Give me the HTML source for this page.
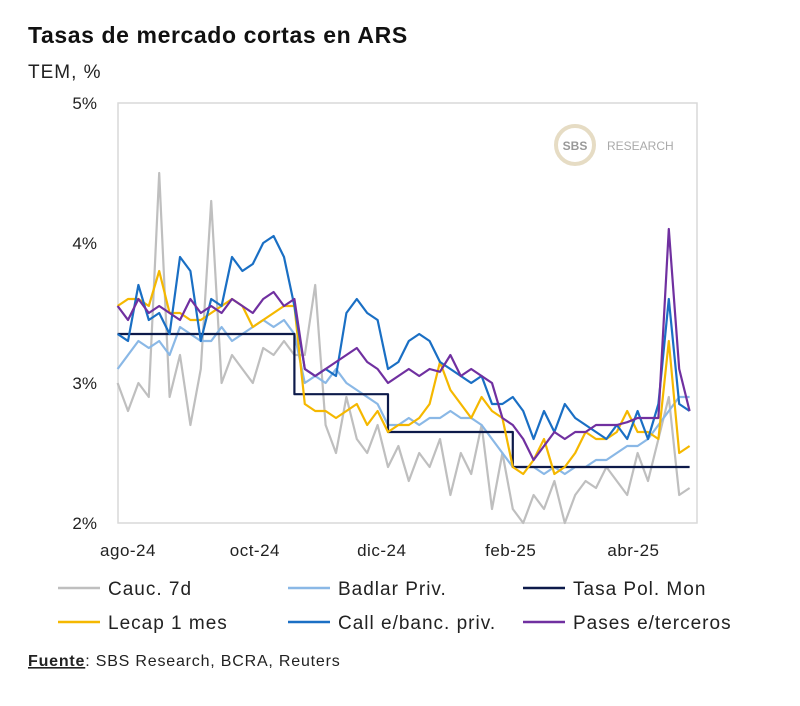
<!DOCTYPE html>
<html><head><meta charset="utf-8"><style>
body{margin:0;background:#fff;width:800px;height:701px;overflow:hidden;font-family:"Liberation Sans",sans-serif;}
</style></head><body>
<svg width="800" height="701" xmlns="http://www.w3.org/2000/svg">
<text x="28" y="43" font-size="23" font-weight="bold" fill="#111" letter-spacing="0.6">Tasas de mercado cortas en ARS</text>
<text x="28" y="78" font-size="19" fill="#222" letter-spacing="1">TEM, %</text>
<rect x="118" y="103" width="579" height="420" fill="none" stroke="#d9d9d9" stroke-width="1.5"/>
<g>
<circle cx="575" cy="145" r="19" fill="#fff" stroke="#e6dcc4" stroke-width="4"/>
<text x="575" y="150" font-size="12" font-weight="bold" fill="#999" text-anchor="middle">SBS</text>
<text x="607" y="150" font-size="12" fill="#aaa">RESEARCH</text>
</g>
<g id="yaxis"></g><g id="xaxis"></g><g id="series"></g>
<g id="legend"></g>
<text x="28" y="666" font-size="16" fill="#222" letter-spacing="0.8"><tspan font-weight="bold" text-decoration="underline">Fuente</tspan>: SBS Research, BCRA, Reuters</text>
</svg>
<script>
const yTicks=[2,3,4,5];
const yTickLabels=["2%","3%","4%","5%"];
const xTickDays=[0,61,122,184,243];
const xTickLabels=["ago-24","oct-24","dic-24","feb-25","abr-25"];
const startDay=-5, stepDays=5;
const seriesNames=["Cauc. 7d","Badlar Priv.","Tasa Pol. Mon","Lecap 1 mes","Call e/banc. priv.","Pases e/terceros"];
const cauc=[3.0,2.8,3.0,2.9,4.5,2.9,3.2,2.7,3.1,4.3,3.0,3.2,3.1,3.0,3.25,3.2,3.3,3.2,3.2,3.7,2.7,2.5,2.9,2.6,2.5,2.7,2.4,2.55,2.3,2.5,2.4,2.6,2.2,2.5,2.35,2.7,2.1,2.5,2.1,2.0,2.2,2.1,2.3,2.0,2.2,2.3,2.25,2.4,2.3,2.2,2.5,2.3,2.6,2.9,2.2,2.25];
const badlar=[3.1,3.2,3.3,3.25,3.3,3.2,3.4,3.35,3.3,3.3,3.4,3.3,3.35,3.4,3.45,3.4,3.45,3.35,3.0,3.05,3.0,3.1,3.0,2.95,2.9,2.85,2.7,2.7,2.75,2.7,2.75,2.75,2.8,2.75,2.75,2.7,2.6,2.5,2.4,2.4,2.4,2.35,2.4,2.35,2.4,2.4,2.45,2.45,2.5,2.55,2.55,2.6,2.7,2.8,2.9,2.9];
const tpm=[3.35,3.35,3.35,3.35,3.35,3.35,3.35,3.35,3.35,3.35,3.35,3.35,3.35,3.35,3.35,3.35,3.35,2.92,2.92,2.92,2.92,2.92,2.92,2.92,2.92,2.92,2.65,2.65,2.65,2.65,2.65,2.65,2.65,2.65,2.65,2.65,2.65,2.65,2.4,2.4,2.4,2.4,2.4,2.4,2.4,2.4,2.4,2.4,2.4,2.4,2.4,2.4,2.4,2.4,2.4,2.4];
const lecap=[3.55,3.6,3.6,3.55,3.8,3.5,3.5,3.45,3.45,3.5,3.55,3.6,3.55,3.4,3.45,3.5,3.55,3.55,2.85,2.8,2.8,2.75,2.8,2.85,2.7,2.8,2.65,2.7,2.7,2.75,2.85,3.15,2.95,2.85,2.75,2.9,2.8,2.75,2.4,2.35,2.45,2.6,2.35,2.4,2.5,2.65,2.6,2.6,2.65,2.8,2.65,2.65,2.6,3.3,2.5,2.55];
const call=[3.35,3.3,3.7,3.45,3.5,3.35,3.9,3.8,3.3,3.6,3.55,3.9,3.8,3.85,4.0,4.05,3.9,3.55,3.1,3.05,3.1,3.05,3.5,3.6,3.5,3.45,3.1,3.15,3.3,3.35,3.3,3.15,3.1,3.05,3.0,3.05,2.85,2.85,2.9,2.8,2.6,2.8,2.65,2.85,2.75,2.7,2.65,2.6,2.7,2.6,2.8,2.6,2.85,3.6,2.85,2.8];
const pases=[3.55,3.45,3.6,3.5,3.55,3.5,3.45,3.6,3.5,3.55,3.5,3.6,3.55,3.5,3.6,3.65,3.55,3.6,3.1,3.05,3.1,3.15,3.2,3.25,3.15,3.1,3.0,3.05,3.1,3.05,3.1,3.08,3.2,3.05,3.1,3.05,3.0,2.75,2.7,2.6,2.45,2.55,2.65,2.6,2.65,2.65,2.7,2.7,2.7,2.72,2.75,2.75,2.75,4.1,3.1,2.8];
const NS="http://www.w3.org/2000/svg";
const yS=v=>523-(v-2)*140;
const xS=d=>128+d*2.08;
function mk(t,a,p){const e=document.createElementNS(NS,t);for(const k in a)e.setAttribute(k,a[k]);p.appendChild(e);return e;}
const ya=document.getElementById('yaxis');
yTicks.forEach((v,i)=>{const t=mk('text',{x:97,y:yS(v)+6,'font-size':17,fill:'#222','text-anchor':'end'},ya);t.textContent=yTickLabels[i];

});
const xa=document.getElementById('xaxis');
xTickDays.forEach((d,i)=>{const t=mk('text',{x:xS(d),y:556,'font-size':17,fill:'#222','text-anchor':'middle','letter-spacing':0.5},xa);t.textContent=xTickLabels[i];

});
const colors=["#bfbfbf","#8ab8e6","#0d1a4a","#f5b800","#1a6fc4","#7030a0"];
const data=[cauc,badlar,tpm,lecap,call,pases];
const sg=document.getElementById('series');
data.forEach((arr,si)=>{
 let pts=arr.map((v,i)=>xS(startDay+i*stepDays).toFixed(1)+','+yS(v).toFixed(1));
 let d;
 if(si===2){d='';arr.forEach((v,i)=>{const x=xS(startDay+i*stepDays),y=yS(v);if(i===0)d+='M'+x+','+y;else{d+='H'+x.toFixed(1)+'V'+y.toFixed(1);}});}
 else d='M'+pts.join('L');
 const p=mk('path',{d:d,fill:'none',stroke:colors[si],'stroke-width':2.2,'stroke-linejoin':'round'},sg);
 
 
});
const lg=document.getElementById('legend');
const lx=[55,285,520], ly=[588,622];
seriesNames.forEach((n,i)=>{const x=lx[i%3],y=ly[Math.floor(i/3)];
 const g=mk('g',{},lg);
 
 
 mk('line',{x1:x+3,y1:y,x2:x+45,y2:y,stroke:colors[i],'stroke-width':2.5},g);
 const t=mk('text',{x:x+53,y:y+7,'font-size':19,fill:'#222','letter-spacing':1},g);t.textContent=n;});
</script>
</body></html>
